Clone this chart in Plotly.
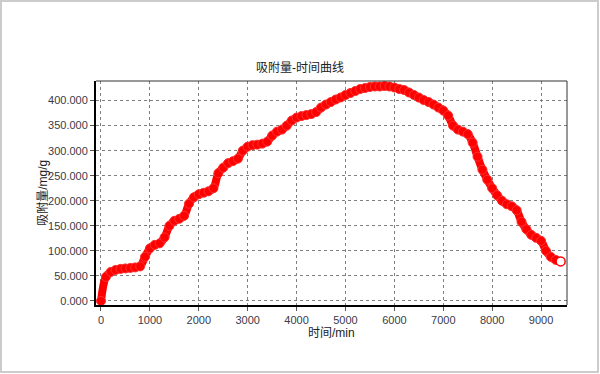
import plotly.graph_objects as go

# ---- data ----
time_min = [0, 100, 200, 300, 400, 500, 600, 700, 800, 900,
            1000, 1100, 1200, 1300, 1400, 1500, 1600, 1700, 1800, 1900,
            2000, 2100, 2200, 2300, 2400, 2500, 2600, 2700, 2800, 2900,
            3000, 3100, 3200, 3300, 3400, 3500, 3600, 3700, 3800, 3900,
            4000, 4100, 4200, 4300, 4400, 4500, 4600, 4700, 4800, 4900,
            5000, 5100, 5200, 5300, 5400, 5500, 5600, 5700, 5800, 5900,
            6000, 6100, 6200, 6300, 6400, 6500, 6600, 6700, 6800, 6900,
            7000, 7100, 7200, 7300, 7400, 7500, 7600, 7700, 7800, 7900,
            8000, 8100, 8200, 8300, 8400, 8500, 8600, 8700, 8800, 8900,
            9000, 9100, 9200, 9300, 9400]
adsorption = [0, 48, 58, 62, 64, 65, 66, 67, 69, 88,
              105, 112, 115, 127, 150, 160, 164, 170, 194, 207,
              213, 216, 219, 225, 255, 266, 275, 279, 284, 300,
              308, 311, 312, 314, 318, 330, 338, 342, 350, 360,
              366, 369, 371, 373, 377, 386, 392, 397, 402, 406,
              411, 415, 419, 423, 425, 427, 428, 428, 429, 428,
              426, 423, 421, 416, 411, 406, 401, 397, 392, 386,
              380, 370, 350, 342, 338, 333, 316, 288, 262, 242,
              225, 211, 200, 193, 189, 181, 158, 143, 132, 126,
              120, 100, 88, 82, 79]

x_ticks = [0, 1000, 2000, 3000, 4000, 5000, 6000, 7000, 8000, 9000]
y_ticks = [0, 50, 100, 150, 200, 250, 300, 350, 400]

title_text = "吸附量-时间曲线"
x_title = "时间/min"
y_title = "吸附量/mg/g"

RED = "#ff0000"
MIX = "Liberation Sans, Noto Sans CJK SC, sans-serif"
LAT = "Liberation Sans, Arial, sans-serif"

fig = go.Figure()
fig.add_trace(go.Scatter(
    x=time_min, y=adsorption,
    mode="lines",
    line=dict(color=RED, width=8, shape="spline", smoothing=1.0),
    hoverinfo="skip", showlegend=False,
))
fig.add_trace(go.Scatter(
    x=time_min[:-1], y=adsorption[:-1],
    mode="markers",
    marker=dict(symbol="circle", size=9, color=RED, line=dict(width=1, color="#ff3030")),
    showlegend=False,
))
# last point drawn as open circle with white fill
fig.add_trace(go.Scatter(
    x=time_min[-1:], y=adsorption[-1:],
    mode="markers",
    marker=dict(symbol="circle", size=9, color="white", line=dict(width=1.5, color=RED)),
    showlegend=False,
))

axis_common = dict(
    showgrid=True, gridcolor="#808080", gridwidth=1, griddash="3px,3px",
    zeroline=False, showline=True, linecolor="#000000", linewidth=2,
    ticks="outside", ticklen=4, tickcolor="#555555", tickwidth=1,
    tickfont=dict(family=LAT, size=11, color="#3a3a4a"),
)

fig.update_xaxes(range=[-102, 9530], tickvals=x_ticks,
                 ticktext=[str(v) for v in x_ticks], **axis_common)
fig.update_yaxes(range=[-8, 439], tickvals=y_ticks,
                 ticktext=[f"{v:.3f}" for v in y_ticks], **axis_common)

fig.update_layout(
    width=600, height=374,
    margin=dict(l=96, r=33, t=81, b=69),
    paper_bgcolor="white", plot_bgcolor="white",
    showlegend=False,
    title=dict(text=title_text, x=0.5, xanchor="center", y=1 - 68 / 374, yanchor="middle",
               font=dict(family=MIX, size=12, color="#222222")),
    annotations=[
        dict(text=x_title, xref="paper", yref="paper", x=0.5, y=-0.125,
             xanchor="center", yanchor="middle", showarrow=False,
             font=dict(family=MIX, size=12, color="#222222")),
        dict(text=y_title, xref="paper", yref="paper", x=-0.113, y=0.5,
             xanchor="center", yanchor="middle", showarrow=False, textangle=-90,
             font=dict(family=MIX, size=12, color="#222222")),
    ],
    shapes=[
        # thin top & right frame of plot area
        dict(type="line", xref="paper", yref="paper", x0=0, x1=1, y0=1, y1=1,
             line=dict(color="#333333", width=1)),
        dict(type="line", xref="paper", yref="paper", x0=1, x1=1, y0=0, y1=1,
             line=dict(color="#333333", width=1)),
        # light gray outer frame of the picture
        dict(type="rect", xref="paper", yref="paper",
             x0=-0.2017, x1=1.0658, y0=-0.299, y1=1.357,
             line=dict(color="#cccccc", width=2)),
    ],
)

fig.write_html("out.html",
               config={"displayModeBar": False},
               post_script="document.body.style.margin='0';document.body.style.overflow='hidden';")
